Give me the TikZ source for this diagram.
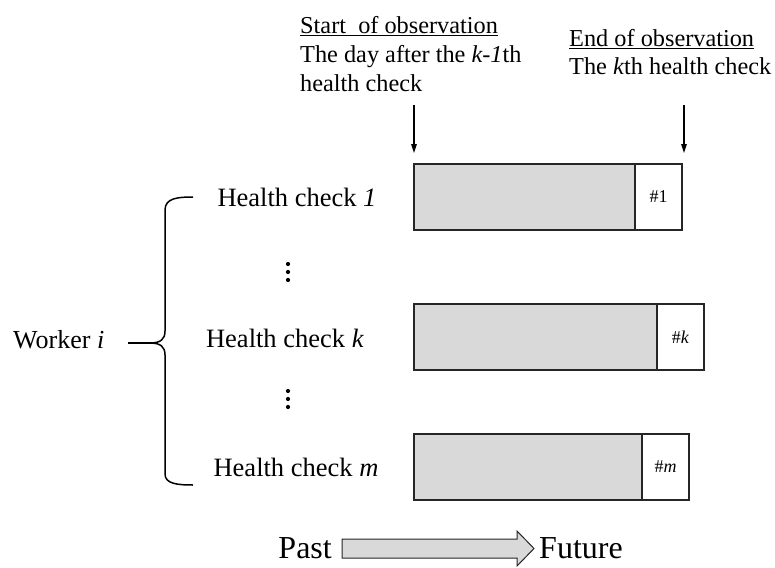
\documentclass[tikz,border=0pt]{standalone}
\usepackage{fontspec}
\setmainfont{Liberation Serif}
\usetikzlibrary{arrows.meta}
\definecolor{barfill}{HTML}{D9D9D9}
\definecolor{barline}{HTML}{262626}
\begin{document}
\begin{tikzpicture}[x=1pt,y=-1pt,
  bar/.style={draw=barline, line width=1.5pt, fill=barfill, inner sep=0pt, outer sep=0pt, anchor=north west, minimum height=66pt},
  tail/.style={draw=barline, line width=1.5pt, fill=white, inner sep=0pt, outer sep=0pt, anchor=north west, minimum height=66pt, minimum width=47pt, font=\fontsize{18}{20}\selectfont},
  toptext/.style={inner sep=0pt, anchor=base west, font=\fontsize{24.3}{28}\selectfont},
  hclabel/.style={inner sep=0pt, anchor=base, font=\fontsize{26.5}{30}\selectfont},
  bigtext/.style={inner sep=0pt, font=\fontsize{32}{36}\selectfont},
  downarrow/.style={line width=1.3pt, -{Triangle[length=9pt,width=5.5pt]}},
  bracestyle/.style={line width=1.5pt, line join=round}
]
\useasboundingbox (0,0) rectangle (775,567);

% top texts
\node[toptext] (st1) at (300,34) {\underline{Start\ \ of observation}};
\node[toptext] (st2) at (300,63) {The day after the \textit{k-1}th};
\node[toptext] (st3) at (300,92) {health check};
\node[toptext] (en1) at (569,47) {\underline{End of observation}};
\node[toptext] (en2) at (569,75) {The \textit{k}th health check};

% bars
\node[bar, minimum width=221pt] (bar1) at (414,164) {};
\node[tail] (tail1) at (bar1.north east) {\#1};
\node[bar, minimum width=243pt] (bark) at (414,304) {};
\node[tail] (tailk) at (bark.north east) {\#\textit{k}};
\node[bar, minimum width=228pt] (barm) at (414,434) {};
\node[tail] (tailm) at (barm.north east) {\#\textit{m}};

% arrows to bars
\coordinate (sa) at (414,105);
\coordinate (sb) at (414,153);
\coordinate (ea) at (684,105);
\coordinate (eb) at (684,153);
\draw[downarrow] (sa) -- (sb);
\draw[downarrow] (ea) -- (eb);

% labels
\node[hclabel] (hc1) at (297,206) {Health check \textit{1}};
\node[hclabel] (hck) at (285,347) {Health check \textit{k}};
\node[hclabel] (hcm) at (296,476) {Health check \textit{m}};
\node[inner sep=0pt, anchor=base west, font=\fontsize{26}{30}\selectfont] (worker) at (13,348) {Worker \textit{i}};

% vertical dots
\foreach \yy in {264,272,280,391,399,407} \fill (288,\yy) circle (2.1pt);

% brace
\coordinate (tip) at (150,343);
\coordinate (stem) at (128,343);
\draw[bracestyle] (193,197) .. controls (178,197) and (165,198) .. (165,210) -- (165,331)
  .. controls (165,339) and (161,343) .. (tip)
  .. controls (161,343) and (165,347) .. (165,355) -- (165,474)
  .. controls (165,484) and (178,485) .. (193,485);
\draw[bracestyle] (tip) -- (stem);

% past/future
\node[bigtext, anchor=base east] (past) at (332,558) {Past};
\node[bigtext, anchor=base west] (future) at (539,558) {Future};
\draw[draw=barline, fill=barfill, line width=1pt] (342,539) -- (517,539) -- (517,531) -- (534,548.5) -- (517,566) -- (517,558) -- (342,558) -- cycle;
\end{tikzpicture}
\end{document}
